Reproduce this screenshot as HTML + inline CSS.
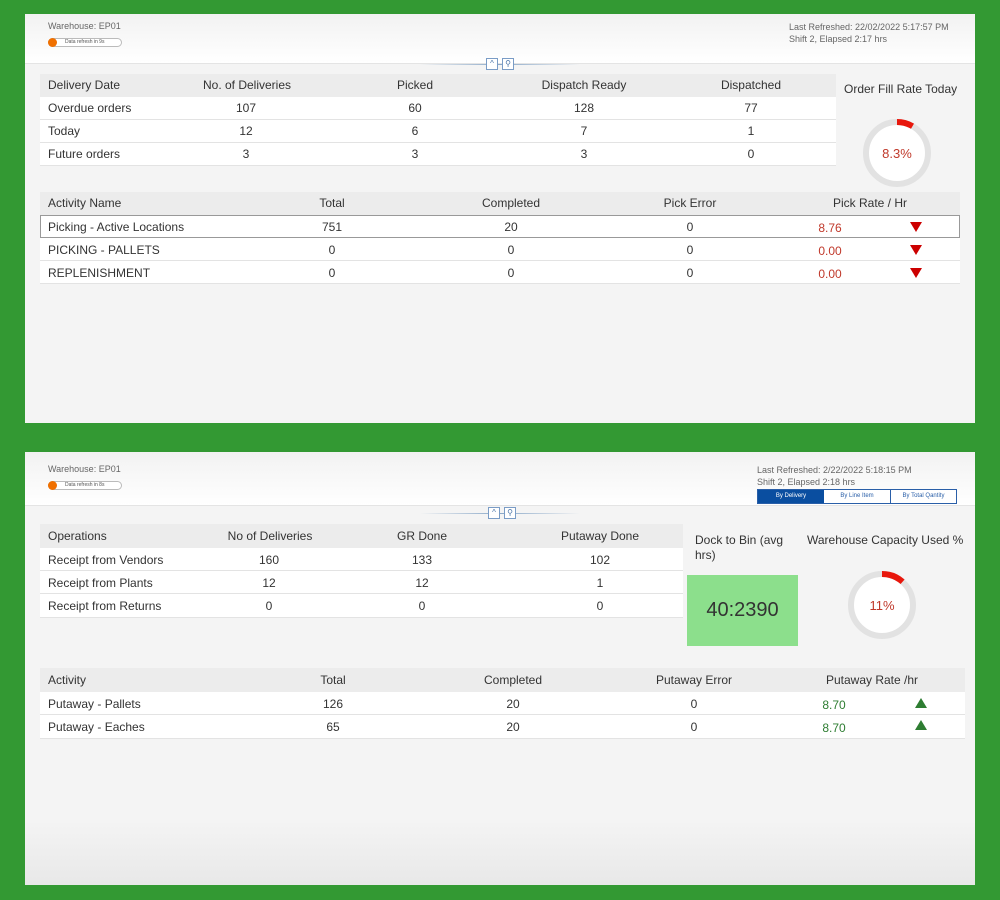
<!DOCTYPE html>
<html><head><style>
*{margin:0;padding:0;box-sizing:border-box}
body{width:1000px;height:900px;background:#339933;position:relative;overflow:hidden;font-family:"Liberation Sans",sans-serif;color:#333;font-size:12px}
.a{position:absolute}
.panel{position:absolute;background:#f4f4f4}
.hdr{position:absolute;left:0;right:0;top:0;background:linear-gradient(#f2f2f2,#fff);border-bottom:1px solid #e4e4e4}
.t{position:absolute;white-space:nowrap}
.c{transform:translateX(-50%)}
.row{position:absolute;background:#fff;border-bottom:1px solid #e3e3e3}
.hrow{position:absolute;background:#ececec}
.red{color:#c0392b}
.grn{color:#2e7d32}
.tri{position:absolute;width:0;height:0;border-left:6px solid transparent;border-right:6px solid transparent}
.dn{border-top:10px solid #cc0000}
.up{border-bottom:10px solid #2e7d32}
.sep{position:absolute;height:1px;background:linear-gradient(90deg,transparent,#8aa8c8,transparent)}
.btn{position:absolute;width:12px;height:12px;border:1px solid #7a9cc6;background:#fff;font-size:8px;color:#4a74a8;text-align:center;line-height:10px}
.pill{position:absolute;width:74px;height:9px;border:1px solid #bbb;border-radius:5px;background:#fff;font-size:5px;line-height:7px;padding-left:16px;color:#555}
.pill:before{content:"";position:absolute;left:-1px;top:-1px;width:9px;height:9px;border-radius:5px;background:#f07000}
</style></head><body>

<!-- TOP PANEL -->
<div class="panel" style="left:25px;top:14px;width:950px;height:409px">
 <div class="hdr" style="height:50px"></div>
</div>
<div class="t" style="left:48px;top:21px;font-size:9px;color:#666">Warehouse: EP01</div>
<div class="pill" style="left:48px;top:38px">Data refresh in 9s</div>
<div class="t" style="left:789px;top:21px;font-size:9px;color:#666;line-height:12px">Last Refreshed: 22/02/2022 5:17:57 PM<br>Shift 2, Elapsed 2:17 hrs</div>
<div class="sep" style="left:420px;top:64px;width:160px"></div>
<div class="btn" style="left:486px;top:58px">^</div>
<div class="btn" style="left:502px;top:58px">⚲</div>

<div class="hrow" style="left:40px;top:74px;width:796px;height:23px"></div>
<div class="row" style="left:40px;top:97px;width:796px;height:23px"></div>
<div class="row" style="left:40px;top:120px;width:796px;height:23px"></div>
<div class="row" style="left:40px;top:143px;width:796px;height:23px"></div>
<div class="t" style="left:48px;top:78px">Delivery Date</div>
<div class="t c" style="left:247px;top:78px">No. of Deliveries</div>
<div class="t c" style="left:415px;top:78px">Picked</div>
<div class="t c" style="left:584px;top:78px">Dispatch Ready</div>
<div class="t c" style="left:751px;top:78px">Dispatched</div>
<div class="t" style="left:48px;top:101px">Overdue orders</div><div class="t c" style="left:246px;top:101px">107</div><div class="t c" style="left:415px;top:101px">60</div><div class="t c" style="left:584px;top:101px">128</div><div class="t c" style="left:751px;top:101px">77</div>
<div class="t" style="left:48px;top:124px">Today</div><div class="t c" style="left:246px;top:124px">12</div><div class="t c" style="left:415px;top:124px">6</div><div class="t c" style="left:584px;top:124px">7</div><div class="t c" style="left:751px;top:124px">1</div>
<div class="t" style="left:48px;top:147px">Future orders</div><div class="t c" style="left:246px;top:147px">3</div><div class="t c" style="left:415px;top:147px">3</div><div class="t c" style="left:584px;top:147px">3</div><div class="t c" style="left:751px;top:147px">0</div>

<div class="t" style="left:844px;top:82px">Order Fill Rate Today</div>
<svg class="a" style="left:860px;top:116px" width="74" height="74"><circle cx="37" cy="37" r="31" fill="#fff" stroke="#e2e2e2" stroke-width="6"/><path d="M37 6 A31 31 0 0 1 52.5 10.2" fill="none" stroke="#e8170c" stroke-width="6"/><text x="37" y="42" text-anchor="middle" font-size="13" fill="#c0392b" font-family="Liberation Sans">8.3%</text></svg>

<div class="hrow" style="left:40px;top:192px;width:920px;height:23px"></div>
<div class="row" style="left:40px;top:215px;width:920px;height:23px;border:1px solid #999"></div>
<div class="row" style="left:40px;top:238px;width:920px;height:23px"></div>
<div class="row" style="left:40px;top:261px;width:920px;height:23px"></div>
<div class="t" style="left:48px;top:196px">Activity Name</div>
<div class="t c" style="left:332px;top:196px">Total</div>
<div class="t c" style="left:511px;top:196px">Completed</div>
<div class="t c" style="left:690px;top:196px">Pick Error</div>
<div class="t c" style="left:870px;top:196px">Pick Rate / Hr</div>
<div class="t" style="left:48px;top:220px">Picking - Active Locations</div><div class="t c" style="left:332px;top:220px">751</div><div class="t c" style="left:511px;top:220px">20</div><div class="t c" style="left:690px;top:220px">0</div><div class="t c red" style="left:830px;top:221px">8.76</div>
<div class="t" style="left:48px;top:243px">PICKING - PALLETS</div><div class="t c" style="left:332px;top:243px">0</div><div class="t c" style="left:511px;top:243px">0</div><div class="t c" style="left:690px;top:243px">0</div><div class="t c red" style="left:830px;top:244px">0.00</div>
<div class="t" style="left:48px;top:266px">REPLENISHMENT</div><div class="t c" style="left:332px;top:266px">0</div><div class="t c" style="left:511px;top:266px">0</div><div class="t c" style="left:690px;top:266px">0</div><div class="t c red" style="left:830px;top:267px">0.00</div>
<div class="tri dn" style="left:910px;top:222px"></div>
<div class="tri dn" style="left:910px;top:245px"></div>
<div class="tri dn" style="left:910px;top:268px"></div>

<!-- BOTTOM PANEL -->
<div class="panel" style="left:25px;top:452px;width:950px;height:433px;background:linear-gradient(#f4f4f4 85%,#e8e8e8)">
 <div class="hdr" style="height:54px"></div>
</div>
<div class="t" style="left:48px;top:464px;font-size:9px;color:#666">Warehouse: EP01</div>
<div class="pill" style="left:48px;top:481px">Data refresh in 8s</div>
<div class="t" style="left:757px;top:464px;font-size:9px;color:#666;line-height:12px">Last Refreshed: 2/22/2022 5:18:15 PM<br>Shift 2, Elapsed 2:18 hrs</div>
<div class="a" style="left:757px;top:489px;width:200px;height:15px;border:1px solid #2a5fa8;background:#fff;font-size:6px;display:flex">
 <div style="width:66px;background:#0a4ea0;color:#fff;text-align:center;line-height:13px">By Delivery</div>
 <div style="width:67px;color:#2a5fa8;text-align:center;line-height:13px;border-right:1px solid #2a5fa8">By Line Item</div>
 <div style="flex:1;color:#2a5fa8;text-align:center;line-height:13px">By Total Qantity</div>
</div>
<div class="sep" style="left:420px;top:513px;width:160px"></div>
<div class="btn" style="left:488px;top:507px">^</div>
<div class="btn" style="left:504px;top:507px">⚲</div>

<div class="hrow" style="left:40px;top:524px;width:643px;height:24px"></div>
<div class="row" style="left:40px;top:548px;width:643px;height:23px"></div>
<div class="row" style="left:40px;top:571px;width:643px;height:23px"></div>
<div class="row" style="left:40px;top:594px;width:643px;height:24px"></div>
<div class="t" style="left:48px;top:529px">Operations</div>
<div class="t c" style="left:270px;top:529px">No of Deliveries</div>
<div class="t c" style="left:422px;top:529px">GR Done</div>
<div class="t c" style="left:600px;top:529px">Putaway Done</div>
<div class="t" style="left:48px;top:553px">Receipt from Vendors</div><div class="t c" style="left:269px;top:553px">160</div><div class="t c" style="left:422px;top:553px">133</div><div class="t c" style="left:600px;top:553px">102</div>
<div class="t" style="left:48px;top:576px">Receipt from Plants</div><div class="t c" style="left:269px;top:576px">12</div><div class="t c" style="left:422px;top:576px">12</div><div class="t c" style="left:600px;top:576px">1</div>
<div class="t" style="left:48px;top:599px">Receipt from Returns</div><div class="t c" style="left:269px;top:599px">0</div><div class="t c" style="left:422px;top:599px">0</div><div class="t c" style="left:600px;top:599px">0</div>

<div class="t" style="left:695px;top:533px;line-height:15px">Dock to Bin (avg<br>hrs)</div>
<div class="a" style="left:687px;top:575px;width:111px;height:71px;background:#8cdf8c;font-size:20px;text-align:center;line-height:71px;color:#333">40:2390</div>
<div class="t" style="left:807px;top:533px">Warehouse Capacity Used %</div>
<svg class="a" style="left:845px;top:568px" width="74" height="74"><circle cx="37" cy="37" r="31" fill="#fff" stroke="#e2e2e2" stroke-width="6"/><path d="M37 6 A31 31 0 0 1 57.6 13.8" fill="none" stroke="#e8170c" stroke-width="6"/><text x="37" y="42" text-anchor="middle" font-size="13" fill="#c0392b" font-family="Liberation Sans">11%</text></svg>

<div class="hrow" style="left:40px;top:668px;width:925px;height:24px"></div>
<div class="row" style="left:40px;top:692px;width:925px;height:23px"></div>
<div class="row" style="left:40px;top:715px;width:925px;height:24px"></div>
<div class="t" style="left:48px;top:673px">Activity</div>
<div class="t c" style="left:333px;top:673px">Total</div>
<div class="t c" style="left:513px;top:673px">Completed</div>
<div class="t c" style="left:694px;top:673px">Putaway Error</div>
<div class="t c" style="left:872px;top:673px">Putaway Rate /hr</div>
<div class="t" style="left:48px;top:697px">Putaway - Pallets</div><div class="t c" style="left:333px;top:697px">126</div><div class="t c" style="left:513px;top:697px">20</div><div class="t c" style="left:694px;top:697px">0</div><div class="t c grn" style="left:834px;top:698px">8.70</div>
<div class="t" style="left:48px;top:720px">Putaway - Eaches</div><div class="t c" style="left:333px;top:720px">65</div><div class="t c" style="left:513px;top:720px">20</div><div class="t c" style="left:694px;top:720px">0</div><div class="t c grn" style="left:834px;top:721px">8.70</div>
<div class="tri up" style="left:915px;top:698px"></div>
<div class="tri up" style="left:915px;top:720px"></div>
</body></html>
